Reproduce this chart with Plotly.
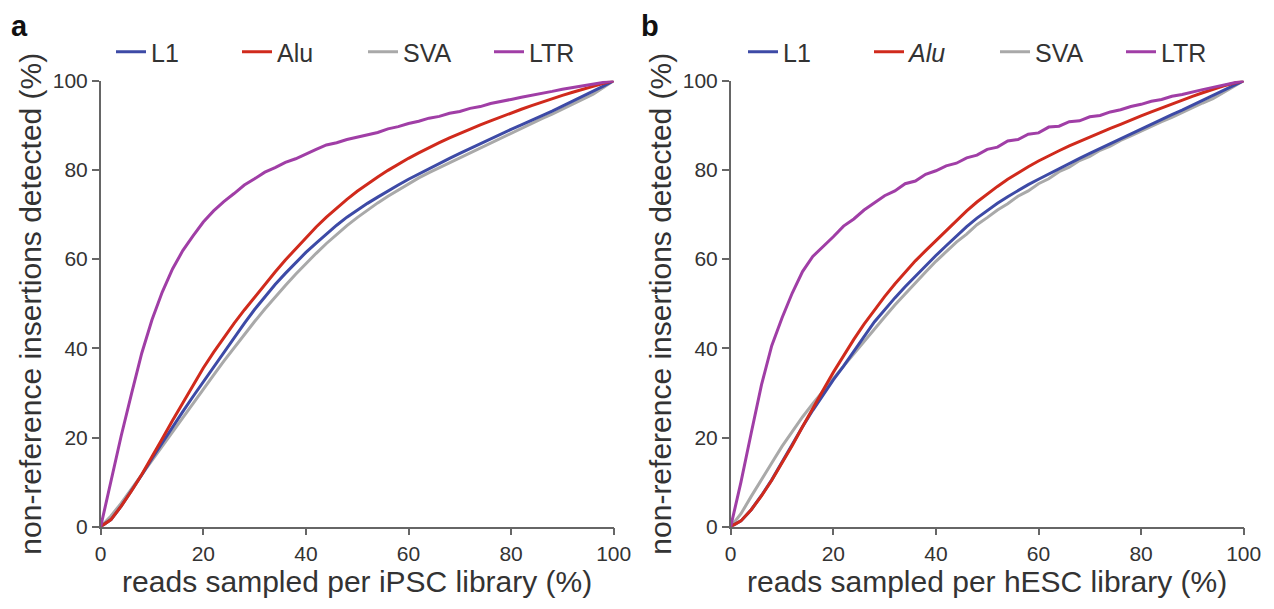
import plotly.graph_objects as go

# shared x grid (% of reads sampled)
X = [0, 2, 4, 6, 8, 10, 12, 14, 16, 18, 20, 22, 24, 26, 28, 30, 32, 34, 36, 38, 40,
     42, 44, 46, 48, 50, 52, 54, 56, 58, 60, 62, 64, 66, 68, 70, 72, 74, 76, 78, 80,
     82, 84, 86, 88, 90, 92, 94, 96, 98, 100]

# ---- panel a: iPSC ----
A_L1 = [0, 1.6, 4.6, 8.0, 11.6, 15.3, 18.9, 22.4, 25.8, 29.2, 32.5, 35.8, 39.1, 42.4, 45.6,
        48.7, 51.6, 54.3, 56.8, 59.2, 61.5, 63.6, 65.7, 67.6, 69.4, 71.0, 72.5, 73.9, 75.3,
        76.6, 77.9, 79.1, 80.3, 81.5, 82.6, 83.7, 84.8, 85.9, 87.0, 88.0, 89.1, 90.1, 91.1,
        92.2, 93.2, 94.3, 95.4, 96.5, 97.6, 98.8, 100]
A_ALU = [0, 1.6, 4.6, 8.0, 11.7, 15.6, 19.7, 23.8, 27.8, 31.7, 35.6, 39.1, 42.5, 45.6, 48.6,
         51.5, 54.3, 57.1, 59.8, 62.3, 64.8, 67.2, 69.4, 71.5, 73.4, 75.2, 76.9, 78.4, 79.9,
         81.3, 82.6, 83.8, 85.0, 86.1, 87.2, 88.2, 89.2, 90.1, 91.0, 91.9, 92.8, 93.6, 94.4,
         95.2, 96.0, 96.7, 97.4, 98.1, 98.8, 99.4, 100]
A_SVA = [0, 2.4, 5.3, 8.5, 11.8, 15.0, 18.1, 21.3, 24.5, 27.7, 30.9, 34.0, 37.1, 40.1, 43.1,
         46.0, 48.8, 51.5, 54.1, 56.6, 59.0, 61.3, 63.5, 65.6, 67.5, 69.3, 71.0, 72.6, 74.1,
         75.5, 76.9, 78.2, 79.4, 80.5, 81.6, 82.7, 83.9, 85.0, 86.1, 87.2, 88.3, 89.4, 90.4,
         91.5, 92.5, 93.6, 94.7, 95.8, 97.0, 98.5, 100]
A_LTR = [0, 10.2, 20.4, 29.8, 38.9, 46.4, 52.6, 57.8, 61.9, 65.2, 68.3, 70.8, 72.9, 74.7, 76.6,
         78.0, 79.5, 80.5, 81.7, 82.5, 83.6, 84.6, 85.6, 86.1, 86.8, 87.3, 87.9, 88.4, 89.2,
         89.7, 90.4, 90.9, 91.6, 92.0, 92.7, 93.1, 93.8, 94.2, 94.9, 95.3, 95.8, 96.3, 96.7,
         97.2, 97.6, 98.1, 98.5, 98.9, 99.3, 99.7, 100]

# ---- panel b: hESC ----
B_L1 = [0, 1.3, 3.8, 7.0, 10.5, 14.5, 18.6, 22.4, 26.1, 29.6, 32.9, 36.0, 39.2, 42.6, 45.9,
        48.7, 51.3, 53.8, 56.2, 58.5, 60.8, 63.0, 65.2, 67.3, 69.2, 70.9, 72.5, 74.0, 75.4,
        76.7, 77.9, 79.1, 80.3, 81.4, 82.6, 83.7, 84.8, 85.9, 87.0, 88.1, 89.1, 90.2, 91.3,
        92.4, 93.4, 94.5, 95.6, 96.7, 97.8, 98.9, 100]
B_ALU = [0, 1.3, 3.8, 6.9, 10.4, 14.2, 18.2, 22.4, 26.6, 30.6, 34.6, 38.4, 42.0, 45.4, 48.6,
         51.6, 54.4, 57.1, 59.6, 61.9, 64.1, 66.4, 68.7, 70.8, 72.8, 74.6, 76.3, 77.9, 79.4,
         80.7, 82.0, 83.2, 84.3, 85.4, 86.4, 87.4, 88.4, 89.3, 90.2, 91.2, 92.1, 93.0, 93.9,
         94.8, 95.7, 96.5, 97.3, 98.1, 98.8, 99.4, 100]
B_SVA = [0, 2.9, 6.8, 10.7, 14.3, 18.0, 21.4, 24.6, 27.6, 30.5, 33.2, 36.0, 38.8, 41.6, 44.4,
         47.0, 49.7, 52.2, 54.8, 57.1, 59.5, 61.6, 63.8, 65.6, 67.7, 69.3, 71.0, 72.4, 74.1,
         75.3, 76.9, 78.0, 79.6, 80.6, 82.1, 83.0, 84.4, 85.3, 86.6, 87.6, 88.7, 89.7, 90.8,
         91.8, 92.9, 93.9, 95.0, 96.0, 97.3, 98.6, 100]
B_LTR = [0, 10.0, 21.0, 31.8, 40.6, 46.8, 52.4, 57.2, 60.6, 62.7, 65.0, 67.4, 69.0, 71.0, 72.5,
         74.2, 75.3, 76.9, 77.5, 79.0, 79.8, 80.9, 81.5, 82.7, 83.3, 84.6, 85.1, 86.5, 86.8,
         88.0, 88.3, 89.6, 89.8, 90.8, 91.0, 91.9, 92.2, 93.0, 93.5, 94.2, 94.7, 95.4, 95.8,
         96.5, 96.9, 97.5, 98.0, 98.5, 99.0, 99.5, 100]

TICKS = [0, 20, 40, 60, 80, 100]
COLORS = {"L1": "#3d4aa6", "Alu": "#d02a1c", "SVA": "#a9a9a9", "LTR": "#a03ea6"}
RANK = {"L1": 1, "Alu": 2, "SVA": 3, "LTR": 4}

FONT = "Liberation Sans, Arial, sans-serif"
OFF = 8                 # default page body margin in the browser
W, H = 1274 - OFF, 609 - OFF

def fx(px):  # screen x -> figure fraction
    return (px - OFF) / W

def fy(py):  # screen y -> figure fraction (from bottom)
    return 1 - (py - OFF) / H

fig = go.Figure()

def add_panel(series, xa, ya, legend, alu_name):
    for key, ys in series:  # draw order
        name = alu_name if key == "Alu" else key
        fig.add_trace(go.Scatter(
            x=X, y=ys, mode="lines", name=name,
            line=dict(color=COLORS[key], width=3),
            xaxis=xa, yaxis=ya, legend=legend, legendrank=RANK[key],
            cliponaxis=False, hoverinfo="skip"))

add_panel([("SVA", A_SVA), ("L1", A_L1), ("Alu", A_ALU), ("LTR", A_LTR)],
          "x", "y", "legend", "Alu")
add_panel([("SVA", B_SVA), ("L1", B_L1), ("Alu", B_ALU), ("LTR", B_LTR)],
          "x2", "y2", "legend2", "<i>Alu</i>")

ydom = [fy(526.7), fy(80.7)]
axis_common = dict(range=[0, 100], tickvals=TICKS, showline=True, linecolor="#666",
                   linewidth=1.5, ticks="outside", ticklen=7, tickwidth=1.5,
                   tickcolor="#666", showgrid=False, zeroline=False, automargin=False,
                   tickfont=dict(family=FONT, size=21, color="#333"))
title_font = dict(family=FONT, size=30, color="#333")

legend_common = dict(orientation="h", xref="container", yref="container",
                     xanchor="left", y=fy(52), yanchor="middle",
                     font=dict(family=FONT, size=25, color="#333"), entrywidth=81,
                     bgcolor="rgba(0,0,0,0)", borderwidth=0)

fig.update_layout(
    width=W, height=H, margin=dict(l=0, r=0, t=0, b=0, autoexpand=False),
    paper_bgcolor="white", plot_bgcolor="white",
    xaxis=dict(domain=[fx(100.7), fx(613.7)], anchor="y",
               title=dict(text="reads sampled per iPSC library (%)", font=title_font, standoff=6),
               **axis_common),
    yaxis=dict(domain=ydom, anchor="x",
               title=dict(text="non-reference insertions detected (%)", font=title_font, standoff=2),
               **axis_common),
    xaxis2=dict(domain=[fx(730.7), fx(1243.7)], anchor="y2",
                title=dict(text="reads sampled per hESC library (%)", font=title_font, standoff=6),
                **axis_common),
    yaxis2=dict(domain=ydom, anchor="x2",
                title=dict(text="non-reference insertions detected (%)", font=title_font, standoff=2),
                **axis_common),
    legend=dict(x=fx(111), **legend_common),
    legend2=dict(x=fx(743), **legend_common),
    annotations=[
        dict(text="<b>a</b>", x=fx(9), y=1, xref="paper", yref="paper",
             xanchor="left", yanchor="top", showarrow=False,
             font=dict(family=FONT, size=29, color="#111")),
        dict(text="<b>b</b>", x=fx(639), y=1, xref="paper", yref="paper",
             xanchor="left", yanchor="top", showarrow=False,
             font=dict(family=FONT, size=29, color="#111")),
    ],
)

fig.write_html("out.html")
